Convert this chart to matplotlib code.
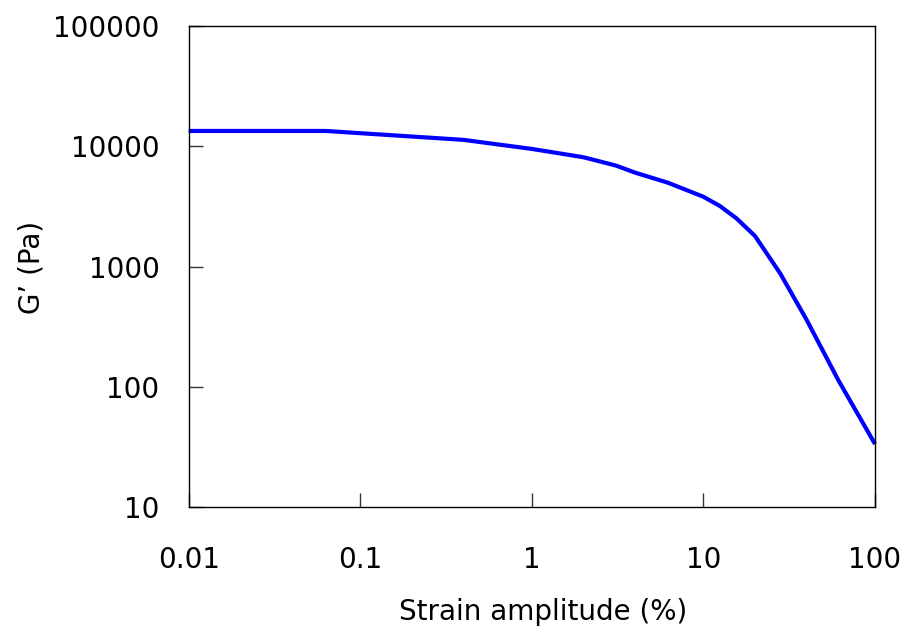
import matplotlib
matplotlib.use("Agg")
import matplotlib.pyplot as plt
from matplotlib.ticker import FixedLocator, FixedFormatter, NullLocator

# Data
strain = [0.01, 0.0158, 0.0251, 0.0398, 0.063, 0.4, 1.0, 2.0, 3.1, 4.0,
          6.2, 10, 12.5, 15.6, 20, 28, 40, 61, 100]
g_prime = [13400, 13400, 13400, 13400, 13400, 11300, 9500, 8100, 6900, 6030,
           4980, 3800, 3180, 2510, 1790, 877, 359, 114, 33.4]

x_ticks = [0.01, 0.1, 1, 10, 100]
x_tick_labels = ["0.01", "0.1", "1", "10", "100"]
y_ticks = [10, 100, 1000, 10000, 100000]
y_tick_labels = ["10", "100", "1000", "10000", "100000"]

x_label = "Strain amplitude (%)"
y_label = "G\u2019 (Pa)"

plt.rcParams['font.family'] = ['DejaVu Sans']

fig = plt.figure(figsize=(9.03, 6.28), dpi=100)
ax = fig.add_axes([188.7 / 903, 1 - 507 / 628, (875 - 188.7) / 903, (507 - 26) / 628])

ax.plot(strain, g_prime, color="#0000ff", linewidth=3.0, solid_capstyle="butt", clip_on=False)

ax.set_xscale("log")
ax.set_yscale("log")
ax.set_xlim(0.01, 100)
ax.set_ylim(10, 100000)

ax.xaxis.set_major_locator(FixedLocator(x_ticks))
ax.xaxis.set_major_formatter(FixedFormatter(x_tick_labels))
ax.yaxis.set_major_locator(FixedLocator(y_ticks))
ax.yaxis.set_major_formatter(FixedFormatter(y_tick_labels))
ax.xaxis.set_minor_locator(NullLocator())
ax.yaxis.set_minor_locator(NullLocator())

ax.tick_params(axis="both", which="major", direction="in", length=10, width=1,
               color="#333333", labelsize=20, labelcolor="black")
ax.tick_params(axis="x", pad=28)
ax.tick_params(axis="y", pad=21)

for sp in ax.spines.values():
    sp.set_linewidth(1.0)
    sp.set_color("black")

ax.set_xlabel(x_label, fontsize=20)
ax.set_ylabel(y_label, fontsize=20)
ax.xaxis.set_label_coords(0.516, -0.19)
ax.yaxis.set_label_coords(-0.209, 0.499)

fig.savefig("out.png", dpi=100, facecolor="white")
